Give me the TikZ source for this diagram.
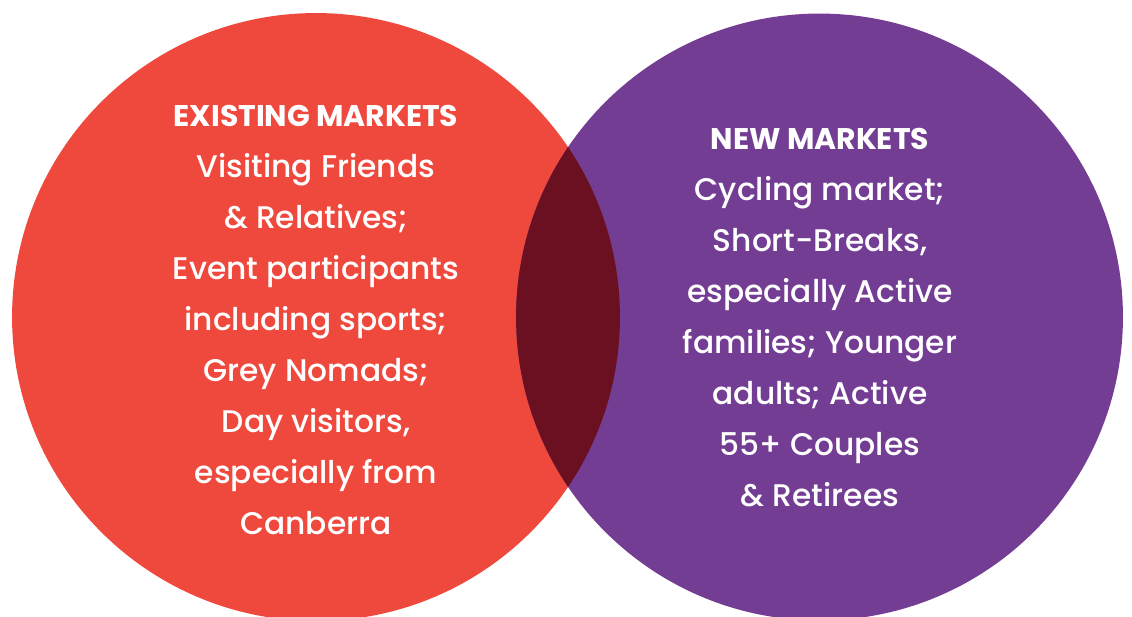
\documentclass[tikz,border=0pt]{standalone}
\usepackage{fontspec}
\setmainfont{Poppins}[UprightFont=* Medium, BoldFont=* Bold]
\definecolor{existred}{HTML}{EF483D}
\definecolor{newpurple}{HTML}{743D94}
\definecolor{overlapred}{HTML}{6B1021}
\tikzset{
  marketline/.style={text=white, anchor=base, inner sep=0pt,
    font=\fontsize{17.8}{22}\selectfont},
  markethead/.style={marketline, font=\bfseries\fontsize{17}{22}\selectfont}
}
\begin{document}
\begin{tikzpicture}[x=0.02cm,y=-0.02cm]
  \useasboundingbox (0,0) rectangle (1132,617);
  % the two markets
  \fill[existred] (316,317) circle (6.08cm);
  \fill[newpurple] (819.5,317) circle (6.07cm);
  \begin{scope}
    \clip (316,317) circle (6.08cm);
    \fill[overlapred] (819.5,317) circle (6.07cm);
  \end{scope}
  % existing markets
  \node[markethead] (exhead) at (316,127) {EXISTING MARKETS};
  \foreach \txt [count=\i] in {{Visiting Friends},{\& Relatives;},
      {Event participants},{including sports;},{Grey Nomads;},
      {Day visitors,},{especially from},{Canberra}}
    \node[marketline] (ex\i) at (316,127+51*\i) {\txt};
  % new markets
  \node[markethead] (newhead) at (820,150) {NEW MARKETS};
  \foreach \txt [count=\i] in {{Cycling market;},{Short-Breaks,},
      {especially Active},{families; Younger},{adults; Active},
      {55+ Couples},{\& Retirees}}
    \node[marketline] (new\i) at (820,150+51*\i) {\txt};
\end{tikzpicture}
\end{document}
